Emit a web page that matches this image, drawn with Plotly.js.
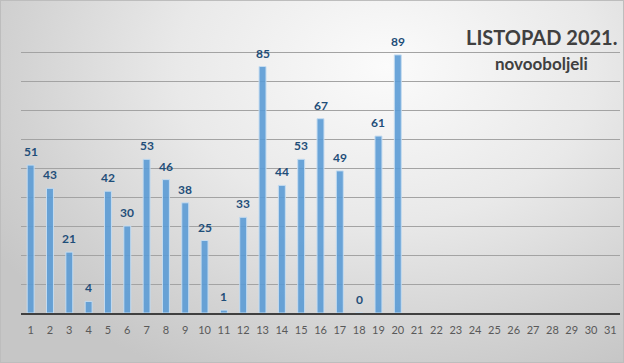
<!DOCTYPE html>
<html>
<head>
<meta charset="utf-8">
<script src="https://cdn.plot.ly/plotly-3.0.1.min.js"></script>
<style>
html,body{margin:0;padding:0;}
#wrap{position:relative;width:624px;height:363px;box-sizing:border-box;border:1px solid #bdbdbd;
background:radial-gradient(ellipse 75% 95% at 62% 18%, #fbfbfb 0%, #e9e9e9 45%, #d2d2d2 80%, #c6c6c6 100%);}
#chart{position:absolute;left:-1px;top:-1px;width:624px;height:363px;}
</style>
</head>
<body>
<div id="wrap"><div id="chart"></div></div>
<script>
const days = ["1","2","3","4","5","6","7","8","9","10","11","12","13","14","15","16","17","18","19","20","21","22","23","24","25","26","27","28","29","30","31"];
const newCases = [51,43,21,4,42,30,53,46,38,25,1,33,85,44,53,67,49,0,61,89,null,null,null,null,null,null,null,null,null,null,null];
const titleText = "LISTOPAD 2021.";
const subtitleText = "novooboljeli";

const font = 'Lato, "Open Sans", sans-serif';
const annotations = [];
days.forEach((d,i)=>{
  if(newCases[i]!==null){
    annotations.push({x:i,y:newCases[i],xref:'x',yref:'y',text:String(newCases[i]),showarrow:false,
      yanchor:'bottom',yshift:4,font:{family:font,size:12,color:'#1f4e79',weight:'bold'}});
  }
});
annotations.push(
  {xref:'paper',yref:'paper',x:(541-21)/599,y:(363-37-50)/290,xanchor:'center',yanchor:'middle',showarrow:false,
   text:titleText,font:{family:font,size:20,color:'#404040',weight:'bold'}},
  {xref:'paper',yref:'paper',x:(541-21)/599,y:(363-63-50)/290,xanchor:'center',yanchor:'middle',showarrow:false,
   text:subtitleText,font:{family:font,size:17,color:'#404040',weight:'bold'}}
);

const layout = {
  width:624,height:363,
  margin:{l:21,r:4,t:23,b:50},
  paper_bgcolor:'rgba(0,0,0,0)',plot_bgcolor:'rgba(0,0,0,0)',
  showlegend:false,
  bargap:0.64,
  xaxis:{type:'category',categoryarray:days,ticks:'',showline:true,linecolor:'#404040',linewidth:2,
    showgrid:false,tickfont:{family:font,size:11,color:'#595959'},ticklabelstandoff:6},
  yaxis:{range:[0,100],dtick:10,showticklabels:false,showgrid:true,gridcolor:'#a3a3a3',gridwidth:1,zeroline:false,fixedrange:true},
  annotations:annotations
};

Plotly.newPlot('chart',[{type:'bar',x:days,y:newCases,
  marker:{color:'rgba(91,155,213,0.9)',line:{color:'#c5dcf0',width:1}},hoverinfo:'none'}],layout,{displayModeBar:false,staticPlot:true});
</script>
</body>
</html>
